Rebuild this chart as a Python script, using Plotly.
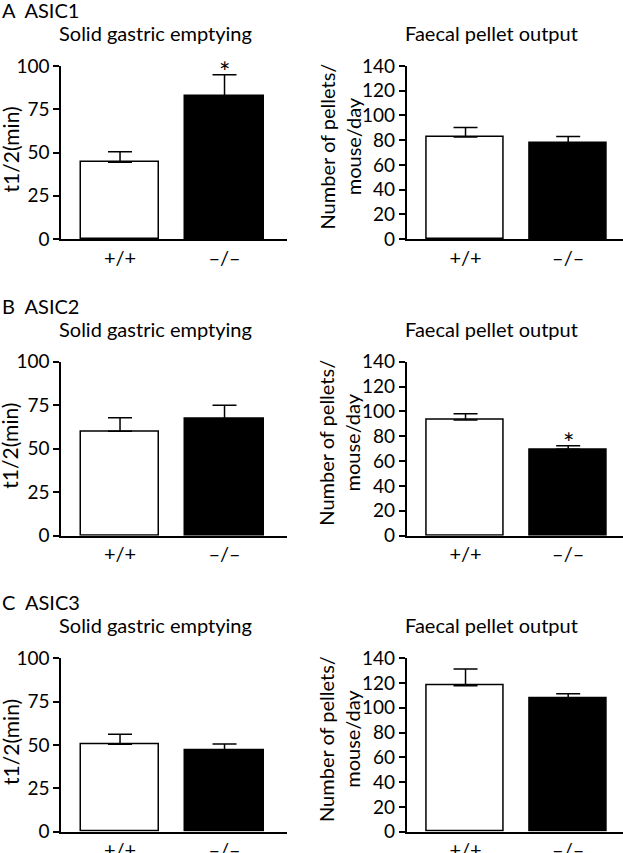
import plotly.graph_objects as go

genotypes = ["+/+", "–/–"]

# Solid gastric emptying t1/2 (min)
ge_asic1 = [44.3, 82.8]
ge_asic1_err = [6.2, 12.2]
ge_asic2 = [60.0, 67.2]
ge_asic2_err = [7.8, 7.7]
ge_asic3 = [50.4, 47.1]
ge_asic3_err = [5.8, 3.5]

# Faecal pellet output (pellets/mouse/day)
fp_asic1 = [82.6, 77.8]
fp_asic1_err = [7.6, 5.2]
fp_asic2 = [93.1, 69.5]
fp_asic2_err = [5.1, 2.9]
fp_asic3 = [117.9, 107.4]
fp_asic3_err = [13.5, 4.0]

panel_labels = ["A\u00a0\u00a0ASIC1", "B\u00a0\u00a0ASIC2", "C\u00a0\u00a0ASIC3"]
ge_ticks = [0, 25, 50, 75, 100]
fp_ticks = [0, 20, 40, 60, 80, 100, 120, 140]

W, H = 623, 853
FONT = "Lato"
FS = 19      # y tick labels
FX = 20      # x tick labels
FT = 20      # titles

fig = go.Figure()

rows = [
    (ge_asic1, ge_asic1_err, fp_asic1, fp_asic1_err, [1], []),
    (ge_asic2, ge_asic2_err, fp_asic2, fp_asic2_err, [], [1]),
    (ge_asic3, ge_asic3_err, fp_asic3, fp_asic3_err, [], []),
]
row_px = [(66, 239), (361.7, 535.7), (658.3, 831.7)]
left_px = (61, 287)
right_px = (406.7, 623)

def ydom(t, b):
    return [1 - b / H, 1 - t / H]

colors = ["white", "black"]
layout_axes = {}
annotations = []
ax = 0
for r, (ge, ge_e, fp, fp_e, ge_star, fp_star) in enumerate(rows):
    t, b = row_px[r]
    for c, (vals, errs, ymax, ticks, stars, xpx) in enumerate([
        (ge, ge_e, 100, ge_ticks, ge_star, left_px),
        (fp, fp_e, 140, fp_ticks, fp_star, right_px),
    ]):
        ax += 1
        xn = "x" if ax == 1 else f"x{ax}"
        yn = "y" if ax == 1 else f"y{ax}"
        fig.add_trace(go.Bar(
            x=[0, 1], y=vals, xaxis=xn, yaxis=yn,
            width=0.75,
            marker=dict(color=colors, line=dict(color="black", width=1.5)),
            error_y=dict(type="data", array=errs, arrayminus=[0, 0], symmetric=False,
                         color="black", thickness=1.5, width=12),
            showlegend=False, hoverinfo="skip",
        ))
        xr = [-0.565, 1.598] if c == 0 else [-0.573, 1.534]
        layout_axes["xaxis" if ax == 1 else f"xaxis{ax}"] = dict(
            domain=[xpx[0] / W, xpx[1] / W], range=xr, anchor=yn,
            tickvals=[0, 1], ticktext=genotypes, ticks="", showline=True,
            linecolor="black", linewidth=1.5, showgrid=False, zeroline=False,
            automargin=False,
            tickfont=dict(family=FONT, size=FX, color="black"),
        )
        layout_axes["yaxis" if ax == 1 else f"yaxis{ax}"] = dict(
            domain=ydom(t, b), range=[0, ymax], anchor=xn,
            tickvals=ticks, ticks="outside", ticklen=6, tickwidth=1.5,
            tickcolor="black", showline=True, linecolor="black", linewidth=1.5,
            showgrid=False, zeroline=False, automargin=False,
            tickfont=dict(family=FONT, size=FS, color="black"),
        )
        for i in stars:
            annotations.append(dict(
                x=i, y=vals[i] + errs[i], xref=xn, yref=yn, text="*",
                showarrow=False, yanchor="middle", yshift=3,
                font=dict(family=FONT, size=27, color="black"),
            ))
    annotations.append(dict(x=0, y=1 - (t - 56) / H, xref="paper", yref="paper",
                            text=panel_labels[r], showarrow=False, xanchor="left",
                            yanchor="middle", font=dict(family=FONT, size=FT, color="black")))
    annotations.append(dict(x=155 / W, y=1 - (t - 33) / H, xref="paper", yref="paper",
                            text="Solid gastric emptying", showarrow=False,
                            xanchor="center", yanchor="middle",
                            font=dict(family=FONT, size=FT, color="black")))
    annotations.append(dict(x=491 / W, y=1 - (t - 33) / H, xref="paper", yref="paper",
                            text="Faecal pellet output", showarrow=False,
                            xanchor="center", yanchor="middle",
                            font=dict(family=FONT, size=FT, color="black")))
    mid = (t + b) / 2
    annotations.append(dict(x=10 / W, y=1 - (mid - 3) / H, xref="paper", yref="paper",
                            text="t1/2(min)", textangle=-90, showarrow=False,
                            xanchor="center", yanchor="middle",
                            font=dict(family=FONT, size=FT + 1, color="black")))
    annotations.append(dict(x=339 / W, y=1 - (mid - 6) / H, xref="paper", yref="paper",
                            text="Number of pellets/<br>mouse/day", textangle=-90,
                            showarrow=False, xanchor="center", yanchor="middle",
                            font=dict(family=FONT, size=FT, color="black")))

fig.update_layout(
    width=W, height=H, margin=dict(l=0, r=0, t=0, b=0),
    paper_bgcolor="white", plot_bgcolor="white",
    annotations=annotations, bargap=0, **layout_axes,
)
fig.write_html("out.html", config={"displayModeBar": False},
               post_script="document.body.style.margin='0';")
